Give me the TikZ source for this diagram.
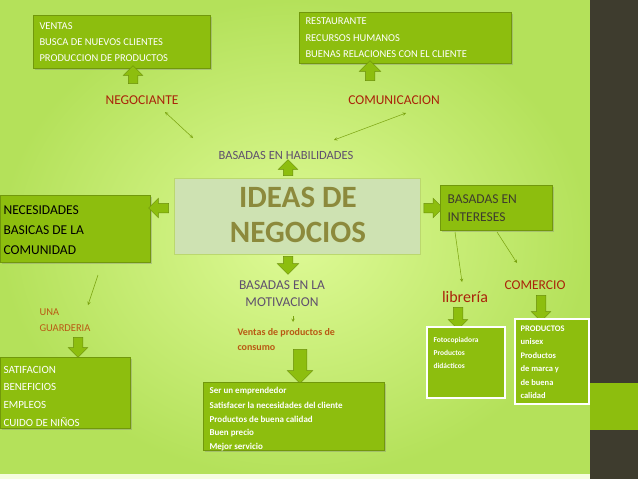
\documentclass[tikz,border=0pt]{standalone}
\usepackage{fontspec}
\setmainfont{Carlito}
\usetikzlibrary{shapes.arrows,shadows}
\definecolor{bgl}{RGB}{222,250,150}
\definecolor{bgd}{RGB}{180,225,90}
\definecolor{boxg}{RGB}{141,190,14}
\definecolor{darkb}{RGB}{62,60,46}
\definecolor{redt}{RGB}{170,35,10}
\definecolor{brownt}{RGB}{185,90,20}
\definecolor{purp}{RGB}{95,80,110}
\definecolor{ideas}{RGB}{140,138,60}
\definecolor{cbox}{RGB}{206,226,178}
\tikzset{
 gbox/.style={fill=boxg,draw=boxg!80!black,line width=0.6pt,drop shadow={opacity=0.35,shadow xshift=1.5pt,shadow yshift=-1.5pt},inner sep=0pt},
 wbox/.style={fill=boxg,draw=white,line width=2pt,inner sep=0pt},
 btxt/.style={text=white,anchor=west,font=\fontsize{10.5}{12}\selectfont},
 blk/.style={single arrow,fill=boxg,draw=boxg!75!black,line width=0.5pt,single arrow head extend=5pt,inner sep=4.5pt,minimum width=0pt},
 thin/.style={draw=boxg!85!black,line width=0.5pt},
}
\begin{document}
\begin{tikzpicture}[x=1pt,y=-1pt]
\useasboundingbox (0,0) rectangle (638,479);
\shade[inner color=bgl,outer color=bgd] (0,0) rectangle (590,479);
\fill[white!70!bgl] (0,474) rectangle (590,479);
\fill[darkb] (590,0) rectangle (638,479);
\fill[boxg] (590,383) rectangle (638,430);
% top boxes
\node[gbox,minimum width=177pt,minimum height=53pt] (ventas) at (121.5,41.5) {};
\node[btxt] (v1) at (36,26) {VENTAS};
\node[btxt] (v2) at (36,42) {BUSCA DE NUEVOS CLIENTES};
\node[btxt] (v3) at (36,58) {PRODUCCION DE PRODUCTOS};
\node[gbox,minimum width=212pt,minimum height=51pt] (rest) at (405,37.5) {};
\node[btxt] (r1) at (302,21) {RESTAURANTE};
\node[btxt] (r2) at (302,38) {RECURSOS HUMANOS};
\node[btxt] (r3) at (302,54) {BUENAS RELACIONES CON EL CLIENTE};
\node[blk,rotate=90,minimum height=18pt] (a1) at (133,77) {};
\node[blk,rotate=90,minimum height=20pt,single arrow head extend=6pt] (a2) at (370,73) {};
\node[text=redt,font=\fontsize{13.5}{15}\selectfont] (neg) at (142,100) {NEGOCIANTE};
\node[text=redt,font=\fontsize{13.5}{15}\selectfont] (com) at (394,100) {COMUNICACION};
\node[text=purp,font=\fontsize{12.5}{14}\selectfont] (hab) at (286,155) {BASADAS EN HABILIDADES};
\coordinate (n1) at (165,112); \coordinate (n2) at (193,138);
\coordinate (c1) at (406,113); \coordinate (c2) at (334,140);
\draw[thin,<->,>=stealth] (n1) -- (n2);
\draw[thin,<->,>=stealth] (c1) -- (c2);
\node[blk,rotate=90,minimum height=16pt] (a3) at (288,170) {};
% central
\node[fill=cbox,draw=boxg!60,line width=0.6pt,minimum width=246pt,minimum height=76pt] (ideas) at (297,216) {};
\node[text=ideas,font=\bfseries\fontsize{31}{31}\selectfont] (t1) at (298,197) {IDEAS DE};
\node[text=ideas,font=\bfseries\fontsize{31}{31}\selectfont] (t2) at (298,232) {NEGOCIOS};
% left
\node[gbox,minimum width=150pt,minimum height=67pt] (nec) at (75,228.5) {};
\node[anchor=west,font=\fontsize{13.5}{15}\selectfont] (nc1) at (0,210) {NECESIDADES};
\node[anchor=west,font=\fontsize{13.5}{15}\selectfont] (nc2) at (0,230) {BASICAS DE LA};
\node[anchor=west,font=\fontsize{13.5}{15}\selectfont] (nc3) at (0,250) {COMUNIDAD};
\node[blk,rotate=180,minimum height=20pt] (a4) at (161,208) {};
\node[blk,minimum height=19pt] (a5) at (431,208) {};
\node[gbox,minimum width=112pt,minimum height=45pt] (int) at (496,207.5) {};
\node[anchor=west,font=\fontsize{13.5}{15}\selectfont,text=darkb] (i1) at (444,199) {BASADAS EN};
\node[anchor=west,font=\fontsize{13.5}{15}\selectfont,text=darkb] (i2) at (444,217) {INTERESES};
% middle lower
\node[blk,rotate=-90,minimum height=18pt,single arrow head extend=6pt] (a6) at (288,263) {};
\node[text=purp,font=\fontsize{13.5}{15}\selectfont,align=center] (mot) at (282,294) {BASADAS EN LA\\[2pt]MOTIVACION};
\coordinate (m1) at (293,316); \coordinate (m2) at (293,322);
\draw[thin,->,>=stealth] (m1) -- (m2);
\node[anchor=west,text=brownt,font=\bfseries\fontsize{10}{15}\selectfont,align=left] (vent) at (234,340) {Ventas de productos de\\consumo};
\node[blk,rotate=-90,minimum height=34pt,inner sep=6.5pt,single arrow head extend=6pt] (a7) at (300,363) {};
\node[gbox,minimum width=181pt,minimum height=68pt] (ser) at (293.5,416) {};
\foreach \t [count=\i] in {Ser un emprendedor,Satisfacer la necesidades del cliente,Productos de buena calidad,Buen precio,Mejor servicio}
  \node[anchor=west,text=white,font=\bfseries\fontsize{9}{10}\selectfont] (s\i) at (206,377+14*\i) {\t};
% left lower
\coordinate (g1) at (98,275); \coordinate (g2) at (88,305);
\draw[thin,->,>=stealth] (g1) -- (g2);
\node[anchor=west,text=brownt,font=\fontsize{10.5}{16}\selectfont,align=left] (una) at (36,320) {UNA\\GUARDERIA};
\node[blk,rotate=-90,minimum height=20pt] (a8) at (78,345) {};
\node[gbox,minimum width=130pt,minimum height=71pt] (sat) at (65,392.5) {};
\foreach \t [count=\i] in {SATIFACION,BENEFICIOS,EMPLEOS,CUIDO DE NIÑOS}
  \node[anchor=west,text=white,font=\fontsize{11}{12}\selectfont] (sa\i) at (0,352+17.5*\i) {\t};
% right lower
\coordinate (l1) at (455,232); \coordinate (l2) at (462,282);
\coordinate (k1) at (497,232); \coordinate (k2) at (517,263);
\draw[thin,->,>=stealth] (l1) -- (l2);
\draw[thin,->,>=stealth] (k1) -- (k2);
\node[text=redt,font=\fontsize{16}{18}\selectfont] (lib) at (465,297) {librería};
\node[text=redt,font=\fontsize{13.5}{15}\selectfont] (comer) at (535,285) {COMERCIO};
\node[blk,rotate=-90,minimum height=22pt] (a9) at (458,316) {};
\node[blk,rotate=-90,minimum height=26pt] (a10) at (541,306) {};
\node[wbox,minimum width=78pt,minimum height=71pt] (foto) at (466,362.5) {};
\foreach \t [count=\i] in {Fotocopiadora,Productos,didácticos}
  \node[anchor=west,text=white,font=\bfseries\fontsize{7.5}{8}\selectfont] (f\i) at (430,328+12.5*\i) {\t};
\node[wbox,minimum width=74pt,minimum height=85pt] (prod) at (552,361.5) {};
\foreach \t [count=\i] in {PRODUCTOS,unisex,Productos,de marca y,de buena,calidad}
  \node[anchor=west,text=white,font=\bfseries\fontsize{8.5}{10}\selectfont] (p\i) at (517,315+13.5*\i) {\t};
\end{tikzpicture}
\end{document}
